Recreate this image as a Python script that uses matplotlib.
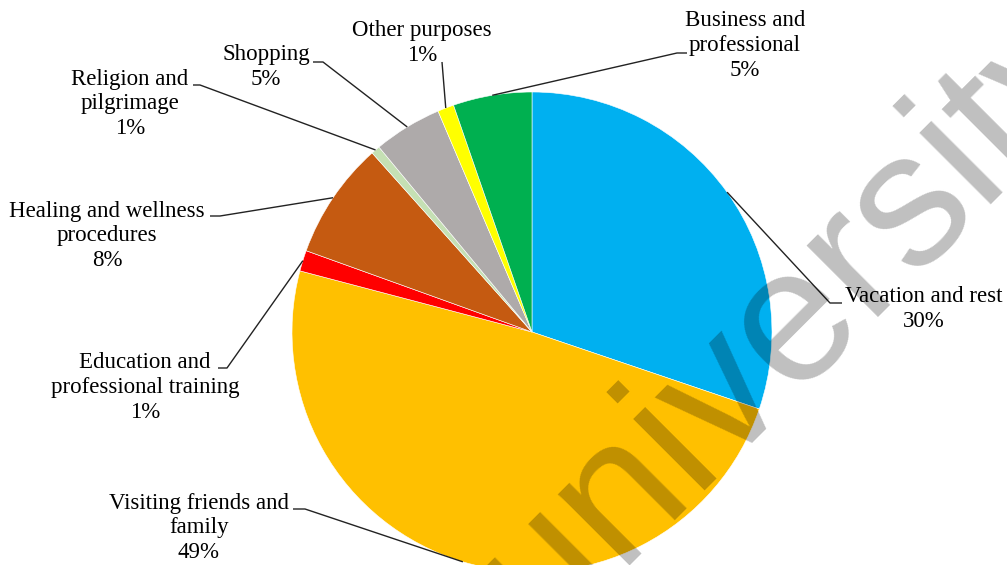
import numpy as np
import matplotlib.pyplot as plt

# slices, clockwise from 12 o'clock
labels = ["Vacation and rest", "Visiting friends and\nfamily",
          "Education and\nprofessional training", "Healing and wellness\nprocedures",
          "Religion and\npilgrimage", "Shopping", "Other purposes",
          "Business and\nprofessional"]
shares = [30.2, 48.9, 1.4, 7.9, 0.6, 4.6, 1.1, 5.3]
colors = ["#00B0F0", "#FFC000", "#FF0000", "#C55A11",
          "#C5E0B4", "#AEAAAA", "#FFFF00", "#00B050"]

W, H = 1007, 565

# label layout in pixels (x, y from top): text centre, elbow, end of the short tick
text_pos = [(924, 309), (199, 528), (145, 388), (107, 236),
            (130, 104), (266, 67), (422, 43), (745, 45)]
elbow = [(830, 303), (305, 509), (227, 368), (220, 216),
         (200, 85), (323, 62), (442, 62), (677, 53)]
tick_end = [842, 293, 218, 210, 193, 313, 442, 687]

fig = plt.figure(figsize=(W / 100, H / 100), dpi=100)
ax = fig.add_axes([0, 0, 1, 1])

cx, cy, r = 532, H - 332, 240
wedges, _ = ax.pie(shares, colors=colors, startangle=90, counterclock=False,
                   center=(cx, cy), radius=r,
                   wedgeprops=dict(edgecolor="white", linewidth=0.4))
ax.set_xlim(0, W)
ax.set_ylim(0, H)
ax.set_aspect("equal")
ax.axis("off")

for i, w in enumerate(wedges):
    mid = np.deg2rad((w.theta1 + w.theta2) / 2)
    px, py = cx + r * np.cos(mid), cy + r * np.sin(mid)
    ex, ey = elbow[i]
    ax.plot([px, ex, tick_end[i]], [py, H - ey, H - ey],
            color="#222222", lw=1.0, solid_capstyle="butt")
    tx, ty = text_pos[i]
    ax.text(tx, H - ty, "%s\n%.0f%%" % (labels[i], shares[i]),
            ha="center", va="center", fontsize=16.5, linespacing=1.25,
            family="Liberation Serif", color="black")

# watermark
ax.text(828, H - 355, "university", ha="center", va="baseline",
        rotation=45, rotation_mode="anchor", fontsize=138,
        family="Liberation Sans", color="black", alpha=0.25, zorder=10)

fig.savefig("out.png", dpi=100)
